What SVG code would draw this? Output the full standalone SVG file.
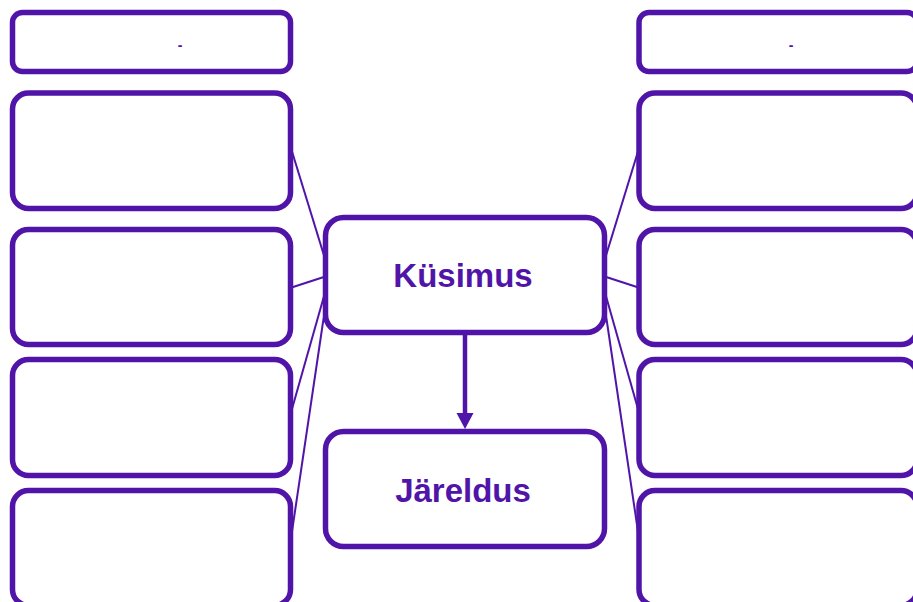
<svg xmlns="http://www.w3.org/2000/svg" width="913" height="602" viewBox="0 0 913 602">
<style>
.box{fill:#fff;stroke:#5015A8;stroke-width:5.5}
.conn{stroke:#5015A8;stroke-width:2;fill:none}
.lbl{font-family:"Liberation Sans",Arial,sans-serif;font-weight:bold;font-size:33px;fill:#5015A8;text-anchor:middle}
.dash{font-family:"Liberation Sans",Arial,sans-serif;font-weight:bold;font-size:14px;fill:#5015A8;text-anchor:middle}
</style>
<g id="connectors">
<line class="conn" x1="290" y1="145" x2="330" y2="275"/>
<line class="conn" x1="290" y1="288" x2="330" y2="275"/>
<line class="conn" x1="290" y1="416" x2="330" y2="275"/>
<line class="conn" x1="290" y1="545" x2="330" y2="275"/>
<line class="conn" x1="640" y1="145" x2="600" y2="275"/>
<line class="conn" x1="640" y1="288" x2="600" y2="275"/>
<line class="conn" x1="640" y1="416" x2="600" y2="275"/>
<line class="conn" x1="640" y1="545" x2="600" y2="275"/>
<line x1="465" y1="335" x2="465" y2="414" stroke="#5015A8" stroke-width="4.5"/>
<path d="M456.5,413 L473.5,413 L465,429 Z" fill="#5015A8"/>
</g>
<g id="left-top"><rect class="box" x="12.5" y="12.5" width="278" height="59" rx="10"/><text class="dash" x="180" y="50">-</text></g>
<g id="left-1"><rect class="box" x="12.5" y="93" width="278" height="115.5" rx="16"/></g>
<g id="left-2"><rect class="box" x="12.5" y="229.5" width="278" height="115" rx="16"/></g>
<g id="left-3"><rect class="box" x="12.5" y="359.5" width="278" height="116" rx="16"/></g>
<g id="left-4"><rect class="box" x="12.5" y="490.5" width="278" height="115" rx="16"/></g>
<g id="right-top"><rect class="box" x="639" y="12.5" width="278" height="59" rx="10"/><text class="dash" x="791" y="50">-</text></g>
<g id="right-1"><rect class="box" x="639" y="93" width="278" height="115.5" rx="16"/></g>
<g id="right-2"><rect class="box" x="639" y="229.5" width="278" height="115" rx="16"/></g>
<g id="right-3"><rect class="box" x="639" y="359.5" width="278" height="116" rx="16"/></g>
<g id="right-4"><rect class="box" x="639" y="490.5" width="278" height="115" rx="16"/></g>
<g id="kusimus"><rect class="box" x="325.5" y="217.5" width="279" height="115" rx="18"/><text class="lbl" x="463" y="286.5">Küsimus</text></g>
<g id="jareldus"><rect class="box" x="325.5" y="431.5" width="279" height="115" rx="18"/><text class="lbl" x="463" y="501.5">Järeldus</text></g>
</svg>
